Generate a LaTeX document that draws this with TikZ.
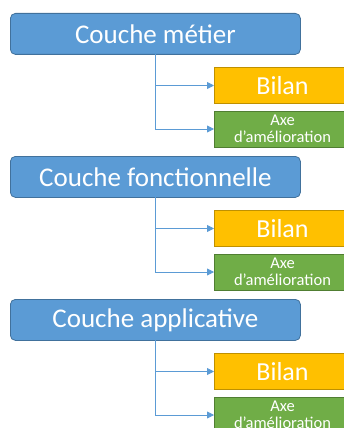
\documentclass[tikz,border=0pt]{standalone}
\usepackage{fontspec}
\setmainfont{Carlito}
\usetikzlibrary{arrows.meta}
\definecolor{cblue}{HTML}{5B9BD5}
\definecolor{cblueb}{HTML}{41719C}
\definecolor{cgold}{HTML}{FFC000}
\definecolor{cgoldb}{HTML}{BF9000}
\definecolor{cgreen}{HTML}{70AD47}
\definecolor{cgreenb}{HTML}{507E32}
\tikzset{
  layer/.style={draw=cblueb, fill=cblue, line width=0.8pt, rounded corners=5pt, minimum width=290pt, minimum height=41pt, text=white, font=\fontsize{27}{27}\selectfont, inner sep=0pt},
  bilan/.style={draw=cgoldb, fill=cgold, line width=1pt, minimum width=136pt, minimum height=36pt, text=white, font=\fontsize{26}{26}\selectfont, inner sep=0pt, anchor=north west},
  axe/.style={draw=cgreenb, fill=cgreen, line width=1pt, minimum width=136pt, minimum height=36pt, text=white, font=\fontsize{16.5}{17}\selectfont, inner sep=0pt, align=center, anchor=north west},
  conn/.style={draw=cblue, line width=0.8pt, -{Triangle[length=7pt,width=7pt]}}
}
\begin{document}
\begin{tikzpicture}[x=1pt,y=-1pt]
\useasboundingbox (0,0) rectangle (344,428);
\foreach \i/\t in {0/Couche métier,1/Couche fonctionnelle,2/Couche applicative}{
  \pgfmathsetmacro{\oy}{\i*143}
  \node[layer, anchor=north west] (L\i) at (10,13+\oy) {\t};
  \node[bilan] (B\i) at (214,67+\oy) {Bilan};
  \node[axe] (A\i) at (214,110.5+\oy) {Axe\\d’amélioration};
  \coordinate (S\i) at (155.5,13+41+\oy);
  \draw[conn] (S\i) |- (B\i.west);
  \draw[conn] (S\i) |- (A\i.west);
}
\end{tikzpicture}
\end{document}
